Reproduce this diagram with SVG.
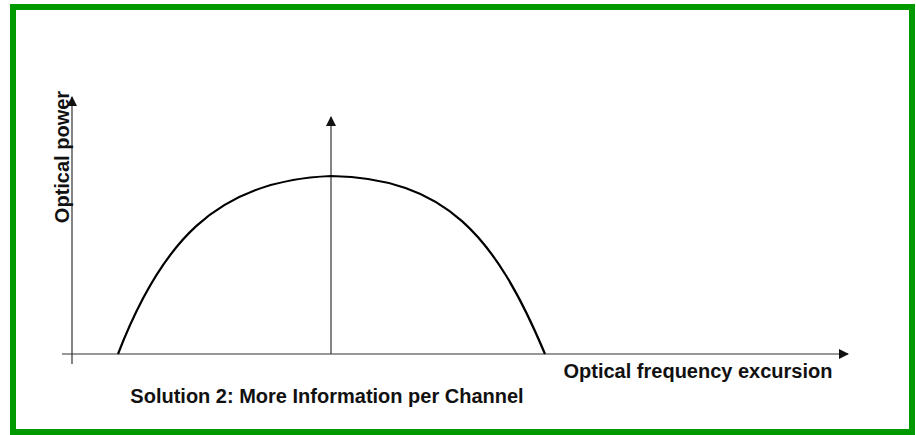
<svg xmlns="http://www.w3.org/2000/svg" width="916" height="435" viewBox="0 0 916 435">
<style>
.ax{stroke:#333;stroke-width:1.2;fill:none}
.t{font-family:"Liberation Sans",Arial,sans-serif;font-weight:bold;font-size:20px;fill:#111}
</style>
<defs>
<marker id="ah" viewBox="0 0 10 10" refX="9" refY="5" markerWidth="10" markerHeight="10" markerUnits="userSpaceOnUse" orient="auto">
<path d="M0,0 L10,5 L0,10 Z" fill="#111"/>
</marker>
</defs>
<rect x="13" y="7" width="899" height="425" fill="#fff" stroke="#009900" stroke-width="6"/>
<g id="connectors">
<line class="ax" x1="72" y1="364" x2="72" y2="97" marker-end="url(#ah)"/>
<line class="ax" x1="62" y1="354" x2="848" y2="354" marker-end="url(#ah)"/>
<line class="ax" x1="331" y1="354" x2="331" y2="117" marker-end="url(#ah)"/>
</g>
<g id="curve">
<path d="M118,354 C160,245 215,180 331,176 C445,178 495,235 545,354" fill="none" stroke="#000" stroke-width="2.2"/>
</g>
<g id="labels">
<text class="t" transform="translate(69,157) rotate(-90)" text-anchor="middle">Optical power</text>
<text class="t" x="698" y="378" text-anchor="middle">Optical frequency excursion</text>
<text class="t" x="327" y="403" text-anchor="middle">Solution 2: More Information per Channel</text>
</g>
</svg>
